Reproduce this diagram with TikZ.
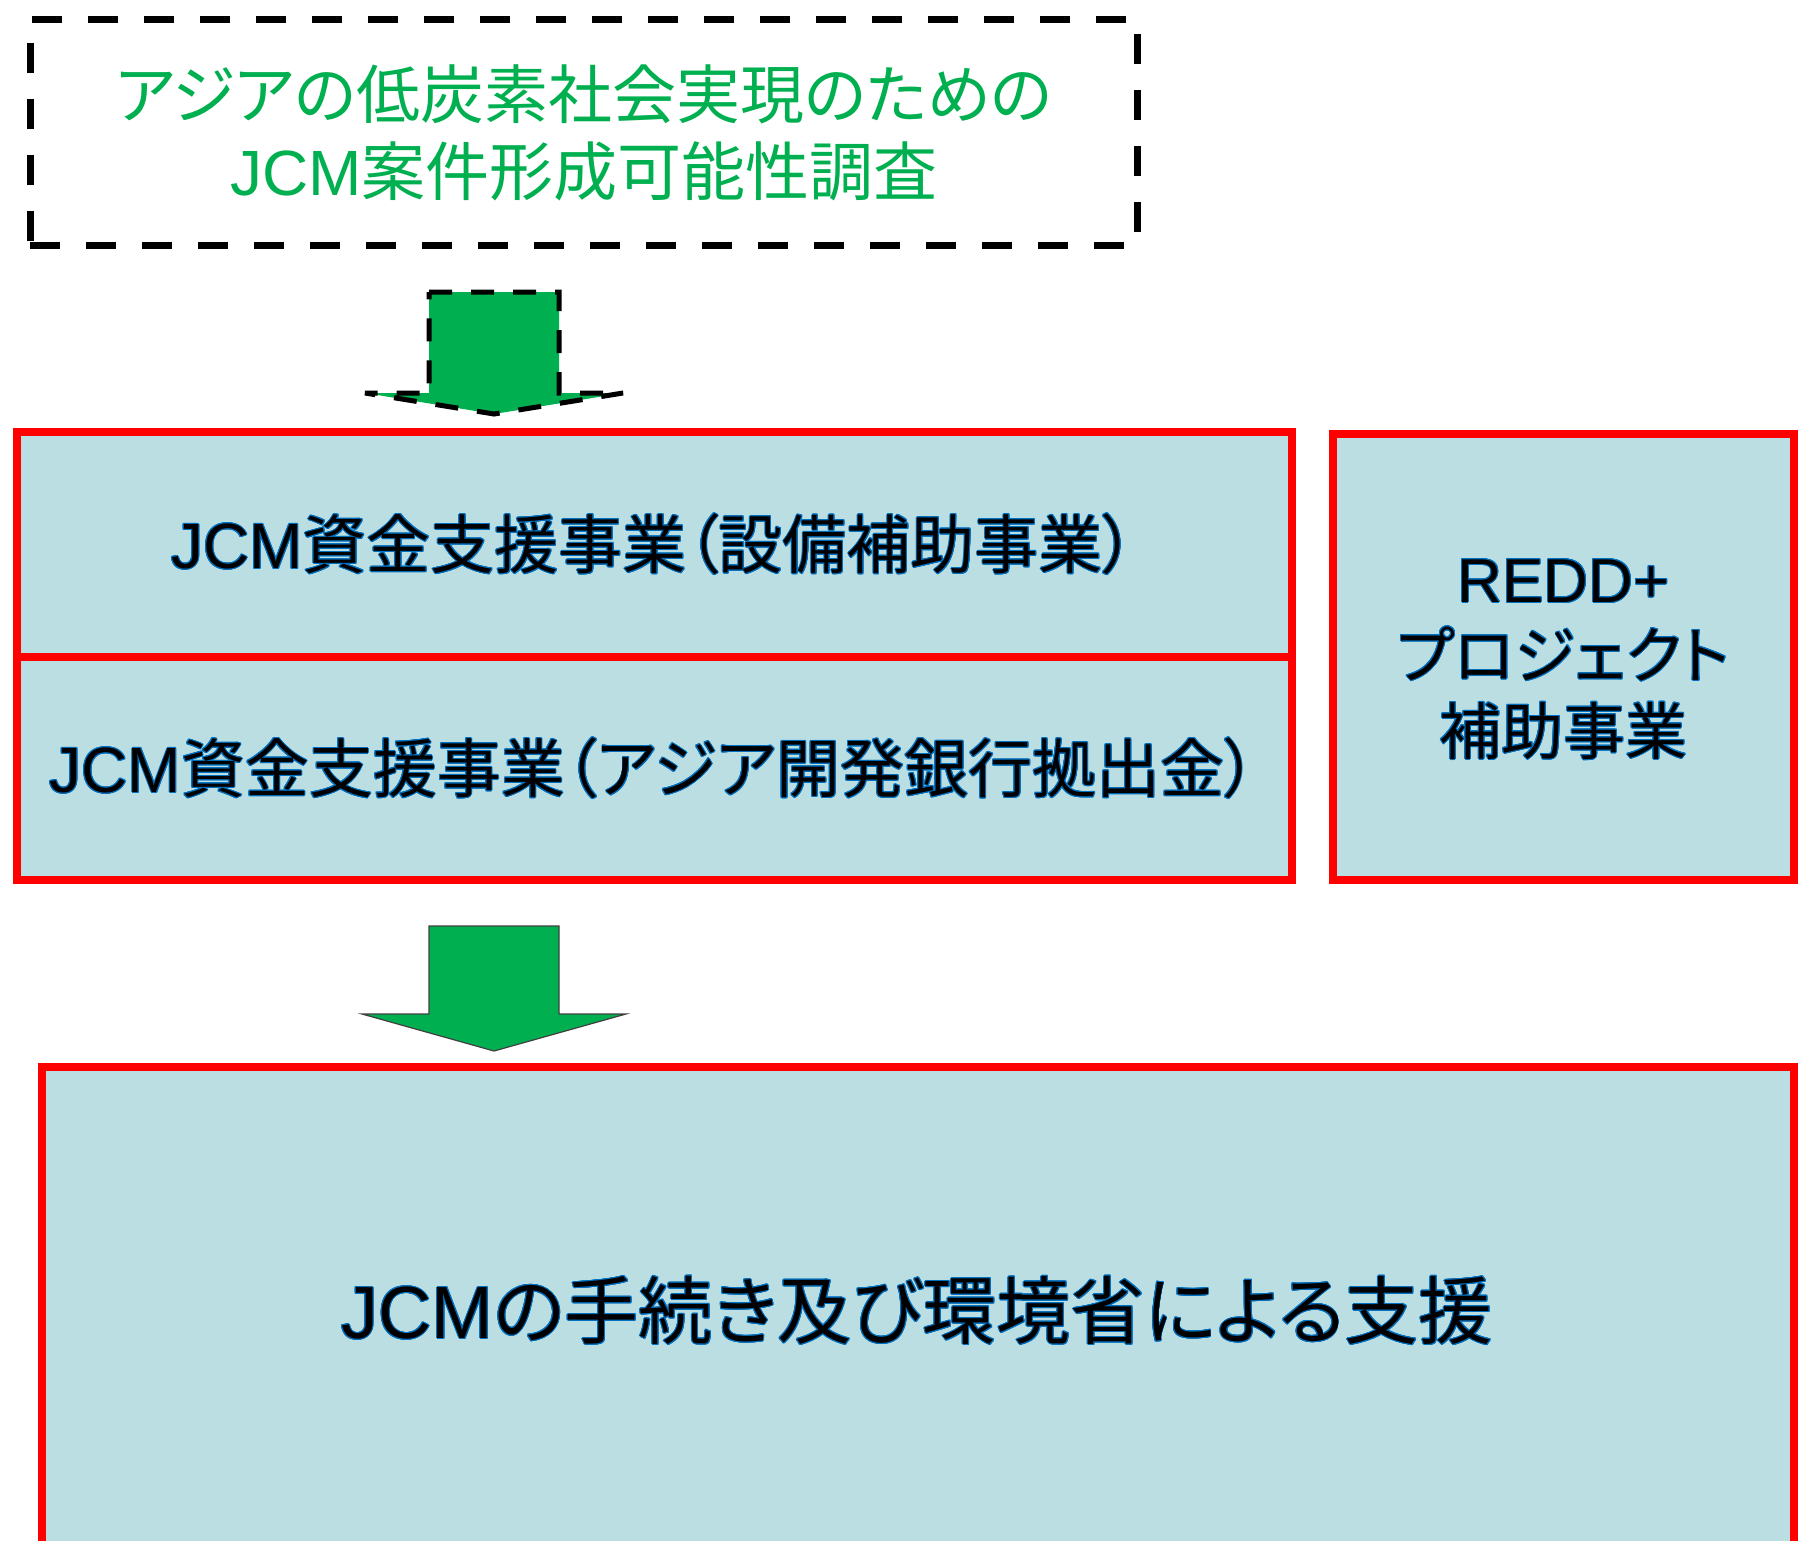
\documentclass[tikz,border=0pt]{standalone}
\usepackage{fontspec}
\usepackage[copies]{contour}
\setmainfont{Noto Sans CJK JP}[RawFeature=+palt]
\newfontfamily\lat{Liberation Sans}
\definecolor{boxfill}{RGB}{186,222,226}
\definecolor{jgreen}{RGB}{0,176,80}
\definecolor{oblue}{RGB}{0,112,192}
\contourlength{0.9pt}
\newcommand{\bt}[1]{\contour{oblue}{#1}}
\begin{document}
\begin{tikzpicture}[x=1pt,y=-1pt,
  redbox/.style={draw=red, line width=7.5pt, fill=boxfill, inner sep=0pt, outer sep=0pt},
  dashbox/.style={draw=black, line width=7pt, dash pattern=on 30pt off 26pt, inner sep=0pt},
  bigtxt/.style={font=\fontsize{64}{76}\selectfont, text=black, align=center},
  reddtxt/.style={font=\fontsize{62}{76}\selectfont, text=black, align=center},
  hugetxt/.style={font=\fontsize{74}{86}\selectfont, text=black, align=center},
  greentxt/.style={font=\fontsize{64}{77}\selectfont, text=jgreen, align=center},
  dasharrow/.style={fill=jgreen, draw=black, line width=5pt, dash pattern=on 23pt off 19pt},
  solidarrow/.style={fill=jgreen, draw=black!75, line width=1.2pt, line join=miter}
]
\clip (0,0) rectangle (1803,1540);
\fill[white] (0,0) rectangle (1803,1540);

% top dashed box
\node[dashbox, minimum width=1107pt, minimum height=226pt] (survey) at (583.5,132) {};
\node[greentxt] (surveytxt) at (584,133) {アジアの低炭素社会実現のための\\{\lat JCM}案件形成可能性調査};

% dashed arrow
\draw[dasharrow] (429,292) -- (559,292) -- (559,393) -- (623,393) -- (494,414) -- (365,393) -- (429,393) -- cycle;

% JCM boxes
\node[redbox, minimum width=1275pt, minimum height=225pt] (b1) at (654.5,544.5) {};
\node[bigtxt] (b1t) at (653,544.5) {\bt{{\lat JCM}資金支援事業（設備補助事業）}};
\node[redbox, minimum width=1275pt, minimum height=223pt] (b2) at (654.5,768.5) {};
\node[bigtxt] (b2t) at (653,768.5) {\bt{{\lat JCM}資金支援事業（アジア開発銀行拠出金）}};

% REDD+ box
\node[redbox, minimum width=461pt, minimum height=446pt] (redd) at (1563.5,657) {};
\node[reddtxt] (reddt) at (1563.5,660) {\bt{\lat REDD+}\\\bt{プロジェクト}\\\bt{補助事業}};

% solid arrow
\draw[solidarrow] (429,926) -- (559,926) -- (559,1014) -- (626,1014) -- (494,1051) -- (362,1014) -- (429,1014) -- cycle;

% bottom box
\node[redbox, minimum width=1752pt, minimum height=488pt] (b4) at (918,1311) {};
\node[hugetxt] (b4t) at (917,1311) {\bt{{\lat JCM}の手続き及び環境省による支援}};
\end{tikzpicture}
\end{document}
